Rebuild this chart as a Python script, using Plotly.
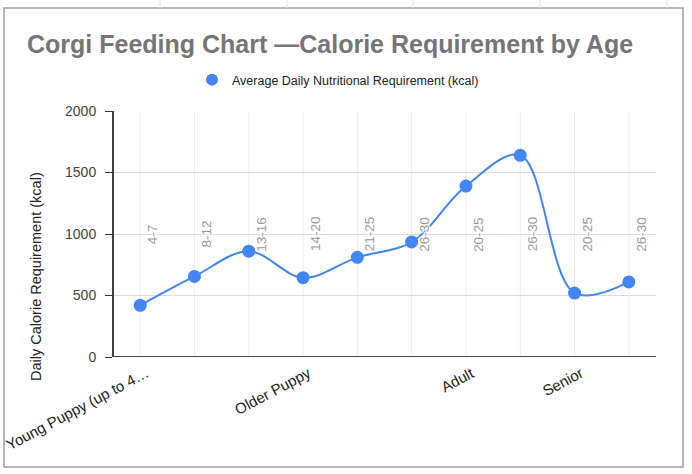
import plotly.graph_objects as go

# ---- data ----
stage_labels = ["Young Puppy (up to 4…", "", "", "Older Puppy", "", "", "Adult", "", "Senior", ""]
weight_ranges = ["4-7", "8-12", "13-16", "14-20", "21-25", "26-30", "20-25", "26-30", "20-25", "26-30"]
calories = [420, 655, 860, 645, 810, 935, 1390, 1640, 520, 610]
y_ticks = [0, 500, 1000, 1500, 2000]

title_text = "Corgi Feeding Chart —Calorie Requirement by Age"
series_name = "Average Daily Nutritional Requirement (kcal)"
y_title = "Daily Calorie Requirement (kcal)"

# ---- layout geometry ----
WIDTH, HEIGHT = 692, 474
L, R, T, B = 113, 36, 111, 117
PW = WIDTH - L - R
PH = HEIGHT - T - B

def px_x(p):
    return (p - L) / PW

def px_y(p):
    return ((HEIGHT - B) - p) / PH

FONT = "Liberation Sans, Arial, sans-serif"
BLUE = "#4285F4"
HALO = ("1px 0px 1px white, -1px 0px 1px white, 0px 1px 1px white, 0px -1px 1px white, "
        "1px 1px 1px white, -1px -1px 1px white, 1px -1px 1px white, -1px 1px 1px white")

idx = list(range(len(calories)))

fig = go.Figure()
fig.add_trace(go.Scatter(
    x=idx, y=calories, mode="lines+markers", name=series_name,
    line=dict(color=BLUE, width=2, shape="spline", smoothing=1),
    marker=dict(color=BLUE, size=13),
    showlegend=False,
))
# legend entry (circle only)
fig.add_trace(go.Scatter(
    x=[None], y=[None], mode="markers", name=series_name,
    marker=dict(color=BLUE, size=13), showlegend=True,
))

annotations = []
for i, w in enumerate(weight_ranges):
    annotations.append(dict(
        x=i, y=1000, xref="x", yref="y", text=w, textangle=-90,
        showarrow=False, xshift=12,
        font=dict(family=FONT, size=13.5, color="#9a9a9a", shadow=HALO),
    ))
# category (life stage) labels, rotated
for i, s in enumerate(stage_labels):
    if s:
        annotations.append(dict(
            x=i, y=0, xref="x", yref="paper", text=s, textangle=-28,
            xanchor="right", yanchor="top", xshift=14, yshift=-4,
            showarrow=False, font=dict(family=FONT, size=15, color="#222222"),
        ))
annotations.append(dict(
    x=px_x(36), y=px_y(277), xref="paper", yref="paper", text=y_title,
    xanchor="center", yanchor="middle",
    textangle=-90, showarrow=False, font=dict(family=FONT, size=14.5, color="#222222"),
))

shapes = []
# spreadsheet cell lines above chart
for cx in [160, 287, 413, 540, 667]:
    shapes.append(dict(type="line", xref="paper", yref="paper",
                       x0=px_x(cx), x1=px_x(cx), y0=px_y(0), y1=px_y(8),
                       line=dict(color="#e2e2e2", width=1)))
# chart border
shapes.append(dict(type="rect", xref="paper", yref="paper",
                   x0=px_x(4), x1=px_x(683), y0=px_y(467), y1=px_y(8),
                   line=dict(color="#a0a0a0", width=1.5), fillcolor="rgba(0,0,0,0)",
                   layer="below"))
shapes.append(dict(type="line", xref="paper", yref="paper",
                   x0=px_x(5), x1=px_x(682), y0=px_y(13), y1=px_y(13),
                   line=dict(color="#f0f0f0", width=1), layer="below"))
# y axis line and baseline
shapes.append(dict(type="line", xref="paper", yref="paper",
                   x0=0, x1=0, y0=0, y1=1, line=dict(color="#000000", width=1.5)))
shapes.append(dict(type="line", xref="paper", yref="y",
                   x0=0, x1=1, y0=0, y1=0, line=dict(color="#444444", width=2)))

fig.update_layout(
    width=WIDTH, height=HEIGHT,
    margin=dict(l=L, r=R, t=T, b=B),
    paper_bgcolor="white", plot_bgcolor="white",
    font=dict(family=FONT, color="#222222"),
    title=dict(text="<b>" + title_text + "</b>", xref="container", x=27 / WIDTH, xanchor="left",
               yref="container", y=1 - 44 / HEIGHT, yanchor="middle",
               font=dict(family=FONT, size=25, color="#757575")),
    legend=dict(orientation="h", xref="paper", yref="paper",
                x=px_x(338), xanchor="center", y=px_y(80), yanchor="middle",
                font=dict(family=FONT, size=12.5, color="#222222"),
                itemsizing="constant"),
    xaxis=dict(range=[-0.5, len(calories) - 0.5], showticklabels=False,
               showgrid=False, zeroline=False, showline=False),
    yaxis=dict(range=[0, 2000], tickmode="array", tickvals=y_ticks,
               showgrid=True, gridcolor="#dcdcdc", gridwidth=1,
               zeroline=False, showline=False,
               ticks="outside", ticklen=7, tickcolor="#333333",
               ticklabelstandoff=6,
               tickfont=dict(family=FONT, size=14, color="#444444")),
    annotations=annotations,
    shapes=shapes,
)

# vertical gridlines at each category
for i in idx:
    fig.add_shape(type="line", xref="x", yref="paper", x0=i, x1=i, y0=0, y1=1,
                  line=dict(color="#ececec", width=1), layer="below")

fig.write_html("out.html", config={"displayModeBar": False},
               post_script="document.body.style.margin='0px';")
